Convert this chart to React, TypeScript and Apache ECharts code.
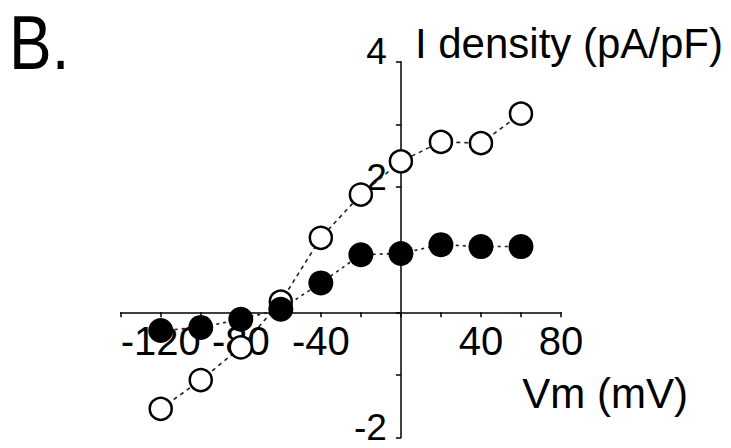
import React, { useEffect, useRef } from "react";
import * as echarts from "echarts";

const voltages = [-120, -100, -80, -60, -40, -20, 0, 20, 40, 60];
const openValues = [-1.54, -1.08, -0.56, 0.17, 1.19, 1.88, 2.41, 2.72, 2.7, 3.17];
const filledValues = [-0.29, -0.24, -0.11, 0.05, 0.47, 0.92, 0.94, 1.08, 1.05, 1.05];
const xTickLabels = ["-120", "-80", "-40", "40", "80"];
const yTickLabels = ["4", "2", "-2"];

const FONT = "'Liberation Sans', Arial, Helvetica, sans-serif";

const GRID_LEFT = 120.7;
const GRID_TOP = 61.7;
const GRID_W = 440.3;
const GRID_H = 376;
const X_MIN = -140;
const X_MAX = 80;
const Y_MIN = -2;
const Y_MAX = 4;

export default function App() {
  const ref = useRef<HTMLDivElement>(null);
  useEffect(() => {
    if (!ref.current) return;
    const chart = echarts.init(ref.current, null, { renderer: "svg" });
    const openData = voltages.map((v, i) => [v, openValues[i]]);
    const filledData = voltages.map((v, i) => [v, filledValues[i]]);
    // shift the axes so that they cross at the origin
    const xOffset = -(GRID_H * (0 - Y_MIN)) / (Y_MAX - Y_MIN);
    const yOffset = -(GRID_W * (0 - X_MIN)) / (X_MAX - X_MIN);
    chart.setOption({
      animation: false,
      backgroundColor: "#ffffff",
      graphic: [
        {
          type: "text",
          x: 9,
          y: 4,
          scaleY: 1.2,
          style: { text: "B.", font: `64px ${FONT}`, fill: "#000" },
        },
      ],
      grid: {
        left: GRID_LEFT,
        top: GRID_TOP,
        width: GRID_W,
        height: GRID_H,
        containLabel: false,
        outerBoundsMode: "none",
      },
      xAxis: {
        type: "value",
        position: "bottom",
        offset: xOffset,
        min: X_MIN,
        max: X_MAX,
        interval: 20,
        splitLine: { show: false },
        axisLine: { onZero: false, lineStyle: { color: "#000", width: 1.5 } },
        axisTick: { show: true, length: 5, lineStyle: { color: "#000", width: 1.5 } },
        axisLabel: {
          formatter: (v: number) => (xTickLabels.includes(String(v)) ? String(v) : ""),
          color: "#000",
          fontFamily: FONT,
          fontSize: 40,
          margin: 9,
          lineHeight: 40,
        },
        name: "Vm (mV)",
        nameLocation: "end",
        nameGap: 127,
        nameMoveOverlap: false,
        nameTextStyle: {
          color: "#000",
          fontFamily: FONT,
          fontSize: 42,
          align: "right",
          verticalAlign: "top",
          lineHeight: 42,
          padding: [60, 0, 0, 0],
        },
      },
      yAxis: {
        type: "value",
        position: "left",
        offset: yOffset,
        min: Y_MIN,
        max: Y_MAX,
        interval: 1,
        splitLine: { show: false },
        axisLine: { onZero: false, lineStyle: { color: "#000", width: 1.5 } },
        axisTick: { show: true, length: 5, lineStyle: { color: "#000", width: 1.5 } },
        axisLabel: {
          formatter: (v: number) => (yTickLabels.includes(String(v)) ? String(v) : ""),
          color: "#000",
          fontFamily: FONT,
          fontSize: 37,
          margin: 14,
          lineHeight: 20,
          verticalAlign: "bottom",
        },
        name: "I density (pA/pF)",
        nameLocation: "end",
        nameGap: 18,
        nameMoveOverlap: false,
        nameTextStyle: {
          color: "#000",
          fontFamily: FONT,
          fontSize: 42,
          align: "left",
          verticalAlign: "middle",
          lineHeight: 42,
          padding: [0, 0, 0, 14],
        },
      },
      series: [
        {
          type: "line",
          data: openData,
          symbol: "circle",
          symbolSize: 22,
          showSymbol: true,
          itemStyle: { color: "#fff", borderColor: "#000", borderWidth: 2.5 },
          lineStyle: { color: "#222", width: 1.6, type: [4, 4] },
          z: 2,
        },
        {
          type: "line",
          data: filledData,
          symbol: "circle",
          symbolSize: 25,
          showSymbol: true,
          itemStyle: { color: "#000", borderColor: "#000", borderWidth: 0 },
          lineStyle: { color: "#222", width: 1.6, type: [3, 4] },
          z: 3,
        },
      ],
    });
    return () => chart.dispose();
  }, []);
  return (
    <div
      ref={ref}
      style={{ position: "fixed", left: 0, top: 0, width: 731, height: 448 }}
    />
  );
}
